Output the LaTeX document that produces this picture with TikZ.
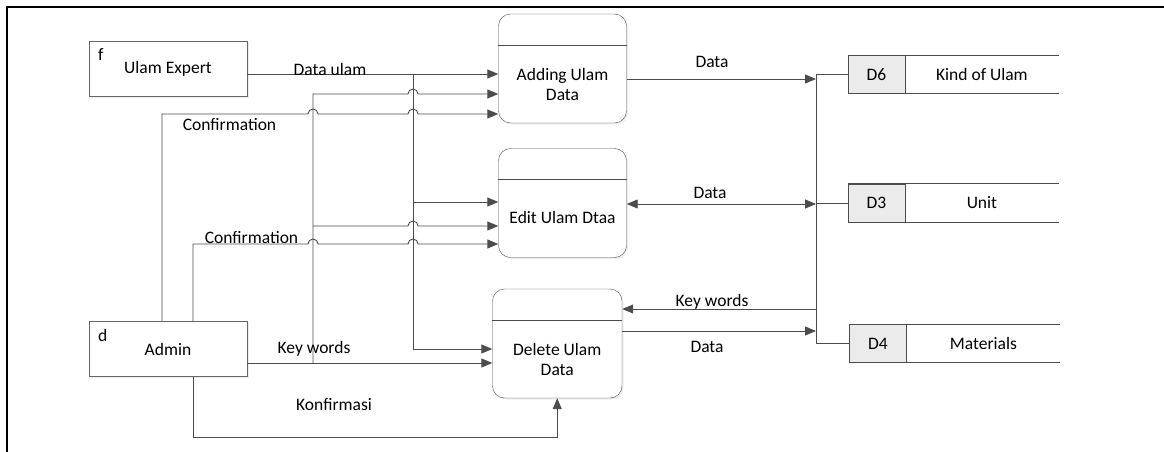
\documentclass[tikz,border=0pt]{standalone}
\usepackage{fontspec}
\setmainfont{Carlito}
\usetikzlibrary{arrows.meta,positioning,calc,shadows}

\begin{document}
\begin{tikzpicture}[x=1pt, y=-1pt, every node/.style={font=\fontsize{17.5}{20}\selectfont},
  ent/.style={draw=black!60, fill=white, minimum width=158pt, minimum height=55pt, inner sep=0pt, drop shadow={shadow xshift=1.5pt, shadow yshift=-1.5pt, opacity=0.15}},
  proc/.style={draw=black!70, fill=white, rounded corners=12pt, minimum width=128pt, minimum height=109pt, inner sep=0pt, drop shadow={shadow xshift=1.5pt, shadow yshift=-1.5pt, opacity=0.15}},
  ptext/.style={align=center, inner sep=0pt},
  sid/.style={draw=black!70, fill=black!8, minimum width=57pt, minimum height=38pt, inner sep=0pt},
  sname/.style={minimum width=153pt, minimum height=38pt, inner sep=0pt},
  lbl/.style={anchor=base, inner sep=0pt},
  line/.style={draw=black!70, line width=0.9pt},
  arr/.style={line, -{Triangle[length=11pt, width=9pt]}},
  darr/.style={line, {Triangle[length=11pt, width=9pt]}-{Triangle[length=11pt, width=9pt]}}]
\useasboundingbox (0,0) rectangle (1164,452);
\draw[line width=2pt] (7,452) -- (7,7.5) -- (1164,7.5);

% external entities
\node[ent, label={[anchor=north west, inner sep=0pt, xshift=9pt, yshift=-8pt]north west:f}] (expert) at (168,68.5) {Ulam Expert};
\node[ent, label={[anchor=north west, inner sep=0pt, xshift=9pt, yshift=-8pt]north west:d}] (admin) at (168,349) {Admin};

% processes
\node[proc] (add) at (562.5,68.5) {};
\draw[line] ([yshift=-31.5pt]add.north west) -- ([yshift=-31.5pt]add.north east);
\node[ptext] (addtxt) at ([yshift=-15.5pt]add.center) {Adding Ulam\\Data};
\node[proc] (edit) at (562.5,203) {};
\draw[line] ([yshift=-31.5pt]edit.north west) -- ([yshift=-31.5pt]edit.north east);
\node[ptext] (edittxt) at ([yshift=-14pt]edit.center) {Edit Ulam Dtaa};
\node[proc, minimum width=129.5pt] (delete) at (557.25,343.5) {};
\draw[line] ([yshift=-31.5pt]delete.north west) -- ([yshift=-31.5pt]delete.north east);
\node[ptext] (deletetxt) at ([yshift=-16pt]delete.center) {Delete Ulam\\Data};

% data stores
\node[sid] (d6) at (876.5,74.5) {D6};
\node[sname, right=0pt of d6] (d6n) {Kind of Ulam};
\draw[line] (d6.north west) -- (d6n.north east) (d6.south west) -- (d6n.south east);
\node[sid] (d3) at (876.5,203) {D3};
\node[sname, right=0pt of d3] (d3n) {Unit};
\draw[line] (d3.north west) -- (d3n.north east) (d3.south west) -- (d3n.south east);
\node[sid] (d4) at (878,343.5) {D4};
\node[sname, right=0pt of d4] (d4n) {Materials};
\draw[line] (d4.north west) -- (d4n.north east) (d4.south west) -- (d4n.south east);

% vertical runs
\coordinate (v1) at (162,0);
\coordinate (v2) at (193,0);
\coordinate (v3) at (313,0);
\coordinate (v4) at (413,0);
\coordinate (bus) at (816,0);

% left flows
\draw[arr] ([yshift=-5.5pt]expert.east) coordinate (du) -- (du -| add.west);
\draw[arr] (v4 |- du) -- (v4 |- 0,349) -- (delete.west |- 0,349);
\draw[arr] (v4 |- 0,202) -- (edit.west |- 0,202);
\draw[arr] ([yshift=-14pt]admin.east) coordinate (kw) -- (kw -| delete.west);
\draw[arr] (v3 |- kw) -- (v3 |- 0,94) -- ($(v4 |- 0,94)+(-5,0)$) arc[start angle=180, end angle=0, radius=5pt] -- (add.west |- 0,94);
\draw[arr] (v3 |- 0,226) -- ($(v4 |- 0,226)+(-5,0)$) arc[start angle=180, end angle=0, radius=5pt] -- (edit.west |- 0,226);
\draw[arr] (v1 |- admin.north) -- (v1 |- 0,114) -- ($(v3 |- 0,114)+(-5,0)$) arc[start angle=180, end angle=0, radius=5pt] -- ($(v4 |- 0,114)+(-5,0)$) arc[start angle=180, end angle=0, radius=5pt] -- (add.west |- 0,114);
\draw[arr] (v2 |- admin.north) -- (v2 |- 0,244) -- ($(v3 |- 0,244)+(-5,0)$) arc[start angle=180, end angle=0, radius=5pt] -- ($(v4 |- 0,244)+(-5,0)$) arc[start angle=180, end angle=0, radius=5pt] -- (edit.west |- 0,244);
\draw[arr] (v2 |- admin.south) -- (v2 |- 0,437) -| (delete.south);

% right flows
\draw[arr] ([yshift=-10.5pt]add.east) coordinate (ad) -- (ad -| bus);
\draw[darr] ([yshift=-1pt]edit.east) coordinate (ed) -- (ed -| bus);
\draw[arr] (bus |- 0,309) -- (delete.east |- 0,309);
\draw[arr] (delete.east |- 0,331) -- (bus |- 0,331);
\draw[line] (d6.west) -- (bus |- d6.west) -- (bus |- d4.west) -- (d4.west);
\draw[line] (d3.west) -- (bus |- d3.west);

% flow labels
\node[lbl] (ldu) at (330,75) {Data ulam};
\node[lbl] (lca) at (229.5,130) {Confirmation};
\node[lbl] (lce) at (251.5,243) {Confirmation};
\node[lbl] (lkw) at (314,353) {Key words};
\node[lbl] (lko) at (334,410) {Konfirmasi};
\node[lbl] (ld1) at (712,67) {Data};
\node[lbl] (ld2) at (710,198) {Data};
\node[lbl] (lkw2) at (712,306) {Key words};
\node[lbl] (ld3) at (707,352) {Data};
\end{tikzpicture}
\end{document}
